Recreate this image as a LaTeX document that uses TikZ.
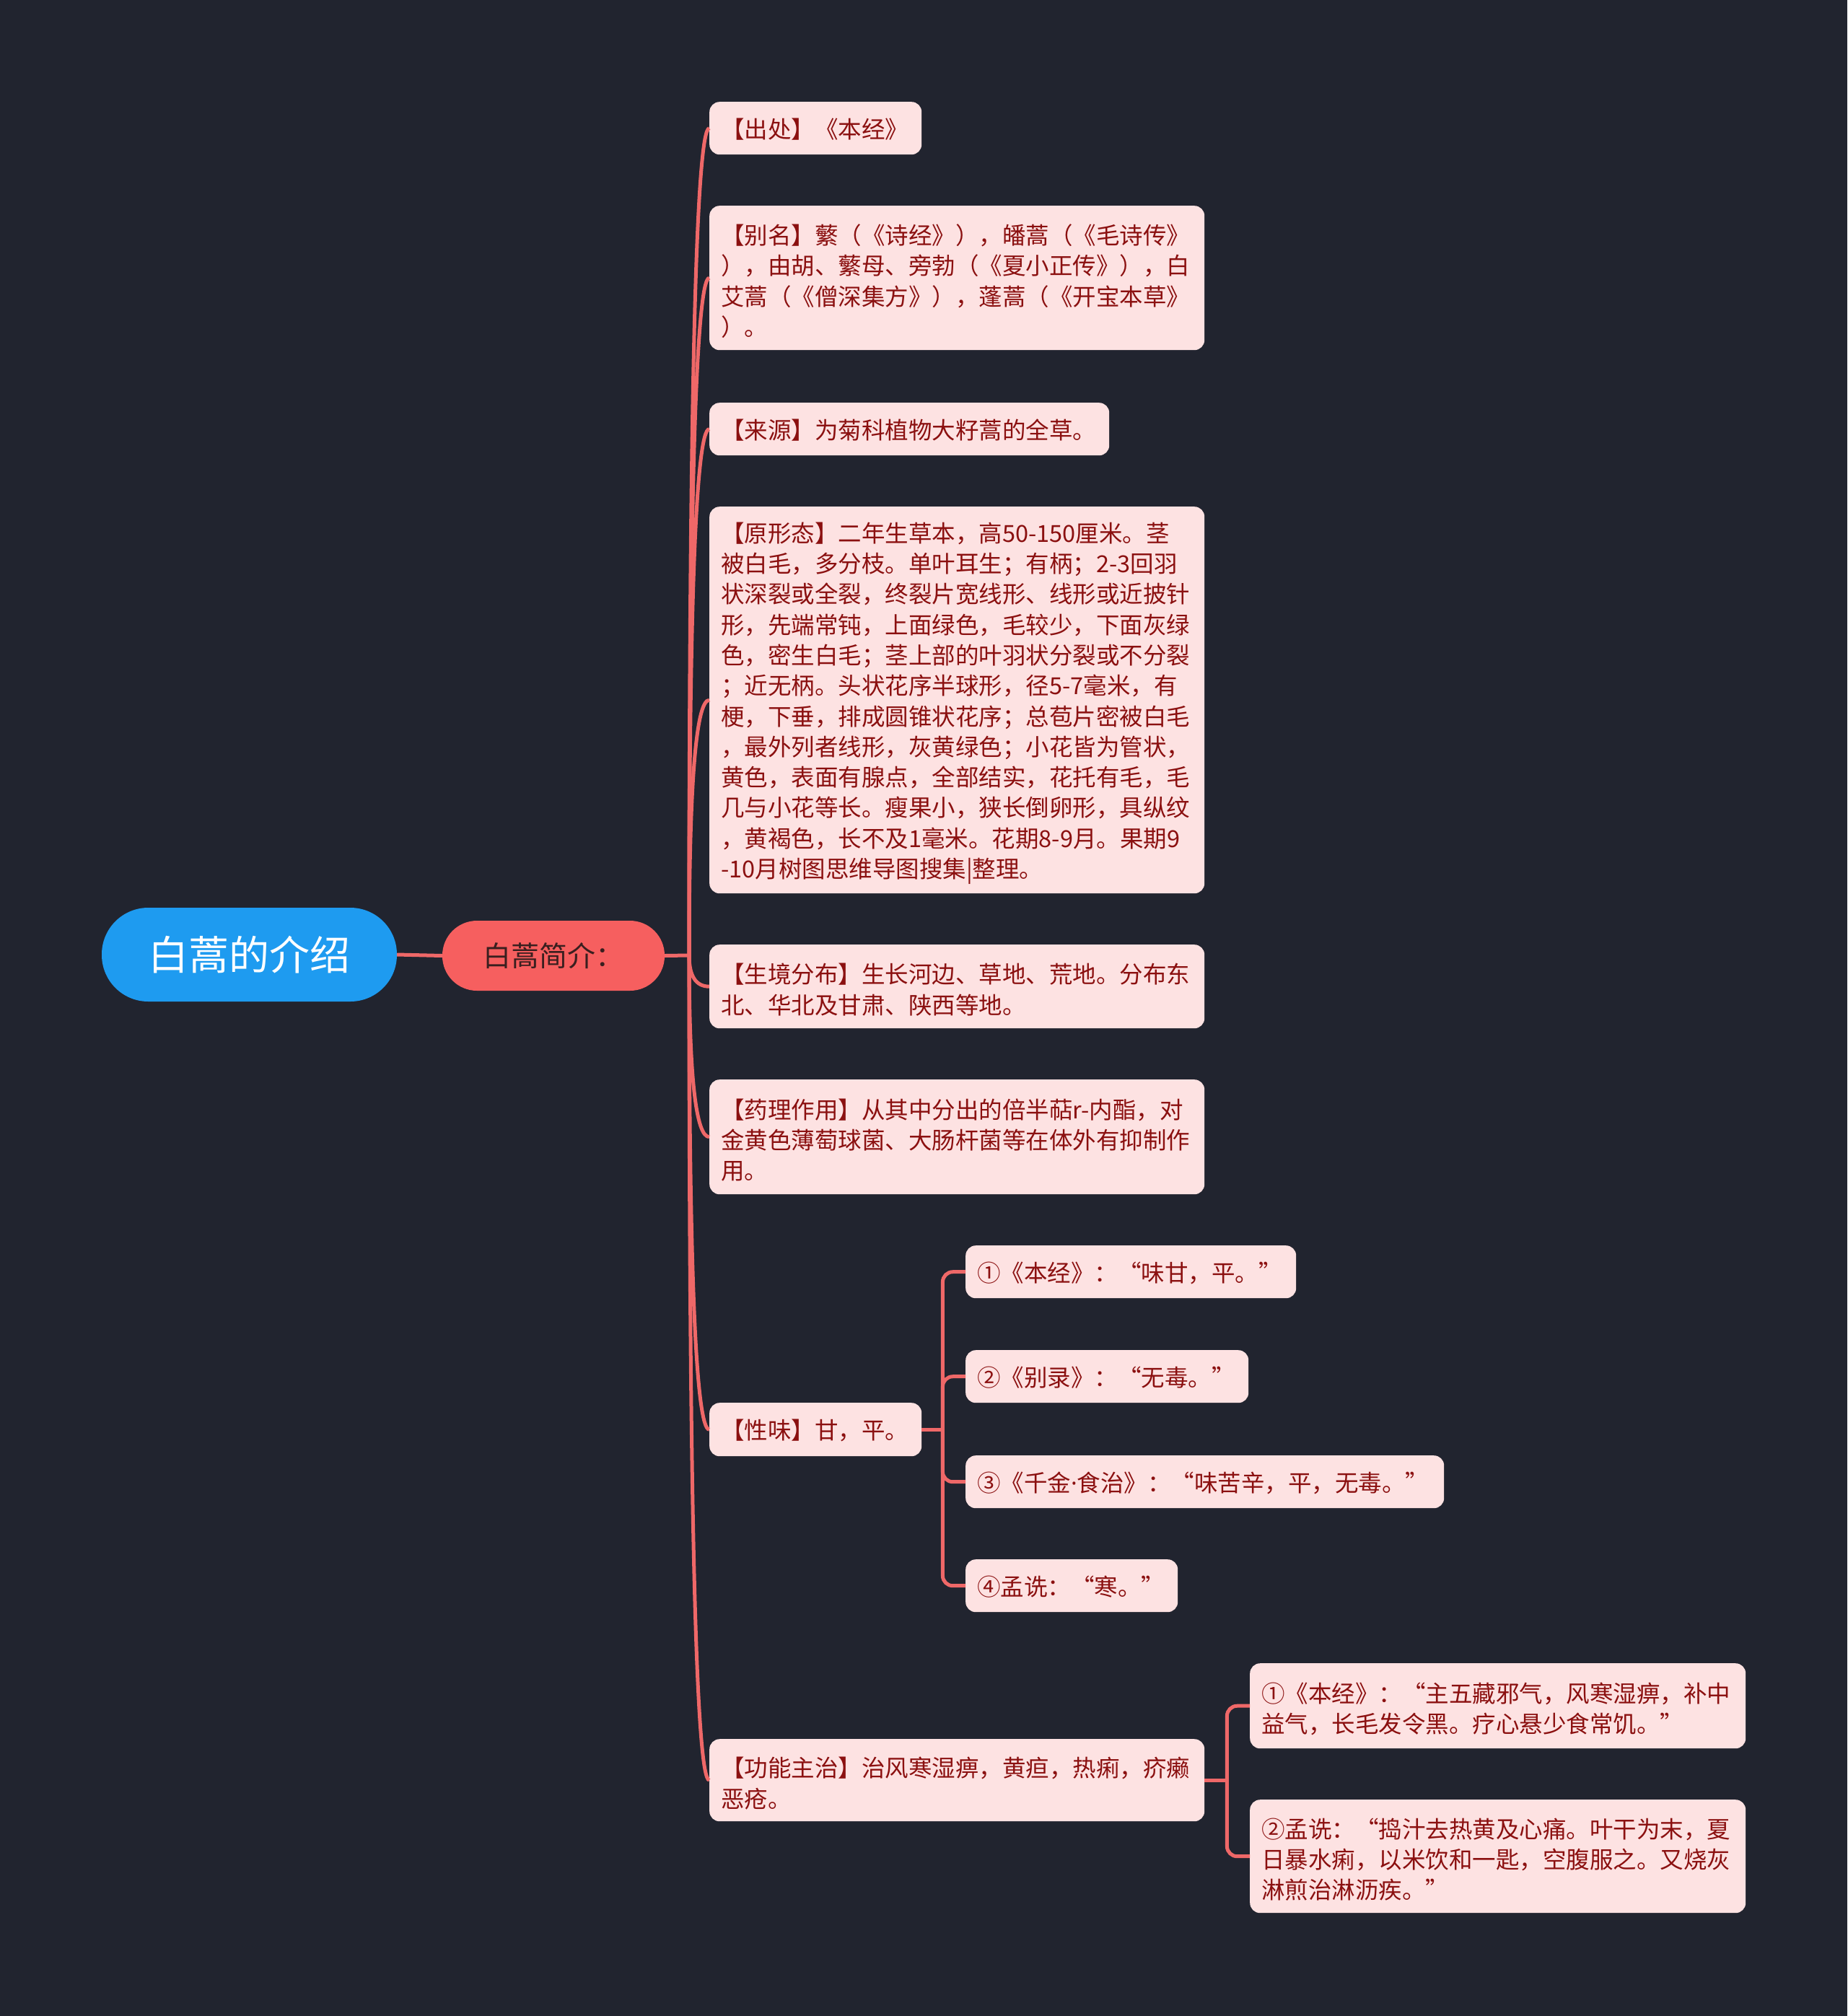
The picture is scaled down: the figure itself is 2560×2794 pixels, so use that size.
\documentclass[tikz,border=0pt]{standalone}
\usepackage{fontspec}
\setmainfont{Noto Sans CJK SC}
\newfontfamily\latinfont{Noto Sans}
\usetikzlibrary{calc}
\definecolor{bg}{HTML}{21242F}
\definecolor{leaffill}{HTML}{FDE2E2}
\definecolor{leaftext}{HTML}{8B1010}
\definecolor{linec}{HTML}{EF6868}
\definecolor{rootc}{HTML}{1E9BF0}
\definecolor{subc}{HTML}{F65F5F}
\definecolor{subtext}{HTML}{3A1F1F}
\begin{document}
\begin{tikzpicture}[x=1pt,y=-1pt,
  leaf/.style={fill=leaffill, text=leaftext, rounded corners=14pt, anchor=north west,
    inner xsep=16pt, inner ysep=0pt, align=left, font=\fontsize{32.5}{42.3}\selectfont,
    execute at end node={\endgraf\kern-9pt}},
  rootbox/.style={fill=rootc, text=white, rounded corners=64.5pt, minimum width=409pt,
    minimum height=130pt, inner sep=0pt, font=\fontsize{56}{60}\selectfont},
  subbox/.style={fill=subc, text=subtext, rounded corners=48pt, minimum width=308pt,
    minimum height=97pt, inner sep=0pt, font=\fontsize{39}{42}\selectfont},
  conn/.style={draw=linec, line width=5pt},
  elbow/.style={draw=linec, line width=5pt, rounded corners=14pt}]
\fill[bg] (0,0) rectangle (2560,2794);
\useasboundingbox (0,0) rectangle (2560,2794);

\node[rootbox] (root) at (345.5,1323) {白蒿的介绍};
\node[subbox] (sub) at (767,1324.5) {白蒿简介：};

\node[leaf, text width=262pt, minimum height=73pt] (n1) at (983,141) {【出处】《本经》};
\node[leaf, text width=654pt, minimum height=200pt] (n2) at (983,285) {【别名】蘩（《诗经》），皤蒿（《毛诗传》\\），由胡、蘩母、旁勃（《夏小正传》），白\\艾蒿（《僧深集方》），蓬蒿（《开宝本草》\\）。};
\node[leaf, text width=522pt, minimum height=73pt] (n3) at (983,558) {【来源】为菊科植物大籽蒿的全草。};
\node[leaf, text width=654pt, minimum height=536pt] (n4) at (983,702) {【原形态】二年生草本，高50-150厘米。茎\\被白毛，多分枝。单叶耳生；有柄；2-3回羽\\状深裂或全裂，终裂片宽线形、线形或近披针\\形，先端常钝，上面绿色，毛较少，下面灰绿\\色，密生白毛；茎上部的叶羽状分裂或不分裂\\；近无柄。头状花序半球形，径5-7毫米，有\\梗，下垂，排成圆锥状花序；总苞片密被白毛\\，最外列者线形，灰黄绿色；小花皆为管状，\\黄色，表面有腺点，全部结实，花托有毛，毛\\几与小花等长。瘦果小，狭长倒卵形，具纵纹\\，黄褐色，长不及1毫米。花期8-9月。果期9\\-10月树图思维导图搜集|整理。};
\node[leaf, text width=654pt, minimum height=116pt] (n5) at (983,1309) {【生境分布】生长河边、草地、荒地。分布东\\北、华北及甘肃、陕西等地。};
\node[leaf, text width=654pt, minimum height=159pt] (n6) at (983,1496) {【药理作用】从其中分出的倍半萜r-内酯，对\\金黄色薄萄球菌、大肠杆菌等在体外有抑制作\\用。};
\node[leaf, text width=262pt, minimum height=74pt] (n7) at (983,1944) {【性味】甘，平。};
\node[leaf, text width=654pt, minimum height=114pt] (n8) at (983,2410) {【功能主治】治风寒湿痹，黄疸，热痢，疥癞\\恶疮。};

\node[leaf, text width=426pt, minimum height=73pt] (s1) at (1338,1726) {①《本经》：“味甘，平。”};
\node[leaf, text width=360pt, minimum height=73pt] (s2) at (1338,1871) {②《别录》：“无毒。”};
\node[leaf, text width=631pt, minimum height=73pt] (s3) at (1338,2017) {③《千金{\latinfont ·}食治》：“味苦辛，平，无毒。”};
\node[leaf, text width=262pt, minimum height=73pt] (s4) at (1338,2161) {④孟诜：“寒。”};

\node[leaf, text width=655pt, minimum height=118pt] (t1) at (1732,2305) {①《本经》：“主五藏邪气，风寒湿痹，补中\\益气，长毛发令黑。疗心悬少食常饥。”};
\node[leaf, text width=655pt, minimum height=157pt] (t2) at (1732,2494) {②孟诜：“捣汁去热黄及心痛。叶干为末，夏\\日暴水痢，以米饮和一匙，空腹服之。又烧灰\\淋煎治淋沥疾。”};

\draw[conn] (root.east) -- (sub.west);
\coordinate (hub) at (955,1324);
\draw[conn] (sub.east) -- (hub);
\foreach \i in {1,...,8}{
  \coordinate (k\i) at (hub|-n\i.west);
  \draw[conn] (hub) .. controls ($(hub)!0.6667!(k\i)$) and ($(n\i.west)!0.6667!(k\i)$) .. (n\i.west);
}

\coordinate (j7) at ($(n7.east)+(29,0)$);
\draw[conn] (n7.east) -- (j7);
\foreach \s in {s1,s2,s3,s4}{
  \draw[elbow] (j7) |- (\s.west);
}

\coordinate (j8) at ($(n8.east)+(31,0)$);
\draw[conn] (n8.east) -- (j8);
\foreach \s in {t1,t2}{
  \draw[elbow] (j8) |- (\s.west);
}
\end{tikzpicture}
\end{document}
